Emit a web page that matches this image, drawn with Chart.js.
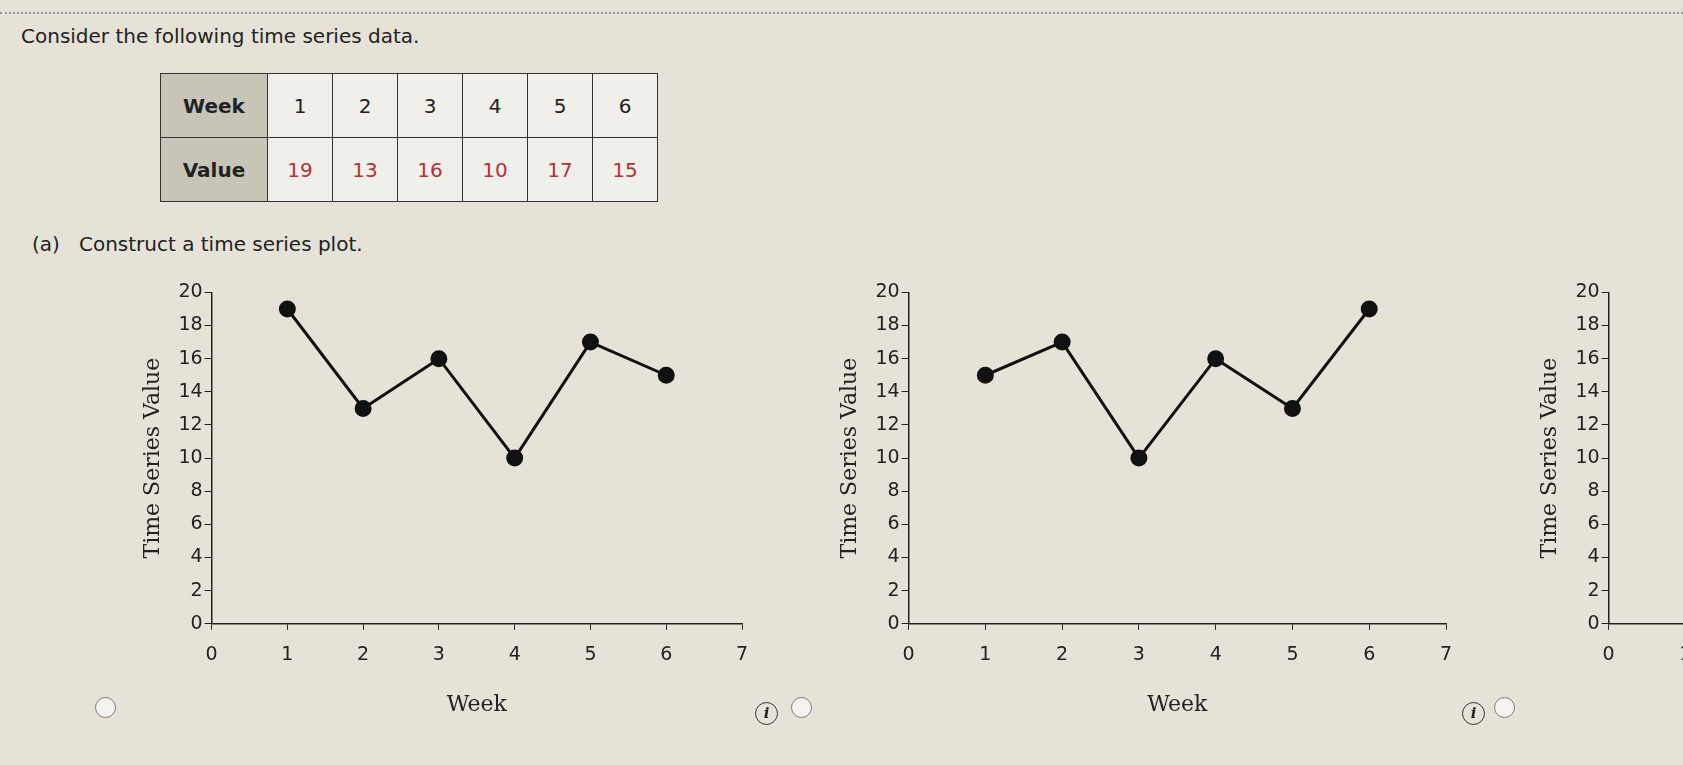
<!DOCTYPE html>
<html><head><meta charset="utf-8">
<script src="https://cdn.jsdelivr.net/npm/chart.js"></script>
<style>
body{margin:0;width:1683px;height:765px;background:#e6e2d8;overflow:hidden;position:relative;font-family:"DejaVu Sans",sans-serif;color:#222}
.dots{position:absolute;left:0;top:12px;width:1683px;border-top:2px dotted #999}
.t{position:absolute;font-size:20px}
table{position:absolute;left:160px;top:73px;border-collapse:collapse;font-size:20px}
td{border:1.5px solid #333;width:64px;height:63px;text-align:center;background:#f1efea;padding:0}
td.h{background:#c9c4b8;font-weight:bold;width:106px}
td.r{color:#b3323a}
canvas{position:absolute}
.radio{position:absolute;width:19px;height:19px;border:1.5px solid #777;border-radius:50%;background:#f4f2ee}
.info{position:absolute;width:21px;height:21px;border:1.5px solid #333;border-radius:50%;font:italic bold 15px "DejaVu Serif";text-align:center;line-height:21px}
</style></head><body>
<div class="dots"></div>
<div class="t" style="left:21px;top:24px">Consider the following time series data.</div>
<table>
<tr><td class="h">Week</td><td>1</td><td>2</td><td>3</td><td>4</td><td>5</td><td>6</td></tr>
<tr><td class="h">Value</td><td class="r">19</td><td class="r">13</td><td class="r">16</td><td class="r">10</td><td class="r">17</td><td class="r">15</td></tr>
</table>
<div class="t" style="left:32px;top:232px">(a)&nbsp;&nbsp; Construct a time series plot.</div>
<canvas id="c1" width="640" height="443" style="left:136px;top:279px"></canvas>
<canvas id="c2" width="640" height="443" style="left:833px;top:279px"></canvas>
<canvas id="c3" width="640" height="443" style="left:1533px;top:279px"></canvas>
<div class="radio" style="left:95px;top:697px"></div>
<div class="info" style="left:755px;top:702px">i</div>
<div class="radio" style="left:791px;top:697px"></div>
<div class="info" style="left:1462px;top:702px">i</div>
<div class="radio" style="left:1494px;top:697px"></div>
<script>
const weeks=[1,2,3,4,5,6];
const valuesA=[19,13,16,10,17,15];
const valuesB=[15,17,10,16,13,19];
const valuesC=[];
function mk(id,vals,rp){
 new Chart(document.getElementById(id),{type:'scatter',
  data:{datasets:[{data:vals.map((v,i)=>({x:weeks[i],y:v})),showLine:true,borderColor:'#111',backgroundColor:'#111',borderWidth:3,pointRadius:7}]},
  options:{responsive:false,animation:false,devicePixelRatio:1,
   layout:{padding:{top:10,right:rp,left:0,bottom:0}},
   plugins:{legend:{display:false},tooltip:{enabled:false}},
   scales:{
    x:{type:'linear',min:0,max:7,border:{color:'#222',width:1.5},
      grid:{drawOnChartArea:false,color:'#222',tickLength:6},
      ticks:{stepSize:1,color:'#222',font:{size:19,family:'DejaVu Sans'},padding:14},
      title:{display:true,text:'Week',color:'#222',font:{size:22,family:'DejaVu Serif'},padding:{top:11}}},
    y:{min:0,max:20,border:{color:'#222',width:1.5},
      grid:{drawOnChartArea:false,color:'#222',tickLength:7},
      ticks:{stepSize:2,color:'#222',font:{size:19,family:'DejaVu Sans'},padding:2},
      title:{display:true,text:'Time Series Value',color:'#222',font:{size:22,family:'DejaVu Serif'},padding:{bottom:10}}}
   }}});
}
mk('c1',valuesA,34);mk('c2',valuesB,27);mk('c3',valuesC,27);
</script>
</body></html>
